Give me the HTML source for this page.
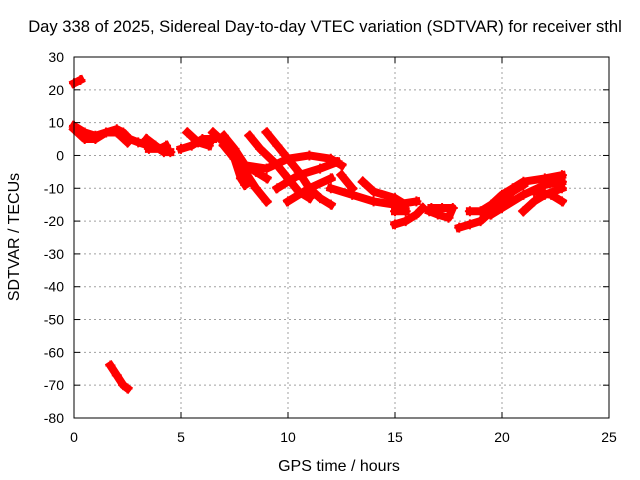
<!DOCTYPE html>
<html><head><meta charset="utf-8"><style>
body{margin:0;background:#fff}
svg{display:block;font-family:"Liberation Sans",sans-serif}
</style></head><body>
<svg id="chart" width="640" height="480">
<rect width="640" height="480" fill="#fff"/>
<g id="grid"></g>
<g id="data"></g>
<rect x="74" y="57" width="535" height="361" fill="none" stroke="#000" stroke-width="1"/>
<g id="axes"></g>
<text x="325" y="32" text-anchor="middle" font-size="16.6">Day 338 of 2025, Sidereal Day-to-day VTEC variation (SDTVAR) for receiver sthl</text>
<text x="339" y="471" text-anchor="middle" font-size="16">GPS time / hours</text>
<text x="19" y="237" text-anchor="middle" font-size="16" transform="rotate(-90 19 237)">SDTVAR / TECUs</text>
</svg>
<script>
const xTicks=[0,5,10,15,20,25];
const yTicks=[30,20,10,0,-10,-20,-30,-40,-50,-60,-70,-80];
const tracks=[
[[0,22],[0.3,23]],
[[0,9],[0.5,7],[1,6],[1.5,7],[2,8],[2.3,7],[2.6,5],[3,4],[3.5,3]],
[[0,8],[0.5,5],[1,5],[1.5,7],[2,7],[2.5,4]],
[[3.4,5],[3.8,3],[4.2,1],[4.5,1]],
[[3.5,2],[4,2],[4.3,3]],
[[5,2],[5.5,3],[6,5],[6.5,5]],
[[5.3,7],[5.8,4],[6.3,3]],
[[6.5,7],[7,4],[7.5,0],[8,-5],[8.5,-10],[9,-14]],
[[7,6],[7.5,2],[8,-3],[8.5,-5],[9,-7]],
[[7,3],[7.5,-1],[7.8,-7],[8,-9]],
[[8.2,6],[8.7,2],[9.5,-3],[10,-7],[10.5,-11],[11,-13]],
[[9,7],[9.5,3],[10,-1],[10.5,-5],[11,-10],[11.5,-13],[12,-15]],
[[8,-3],[9,-4],[10,-1],[11,0],[12,-1],[12.5,-3]],
[[9.5,-10],[10.5,-6],[11.5,-4],[12.3,-2]],
[[10,-14],[11,-10],[12,-7]],
[[12,-10],[13,-12],[14,-14],[15,-15],[16,-14]],
[[13.5,-8],[14,-11],[15,-13],[15.5,-15]],
[[12.5,-6],[13,-10]],
[[15,-21],[15.5,-20],[16,-18],[16.3,-16]],
[[15,-17],[15.5,-17]],
[[16.6,-17],[17,-18],[17.5,-19],[17.7,-16],[17.2,-16],[16.7,-16]],
[[18,-22],[18.5,-21],[19,-20],[19.5,-17],[20,-14],[20.5,-11],[21,-9]],
[[18.5,-17],[19,-17],[19.5,-15],[20,-12],[20.5,-10],[21,-8],[22,-7],[22.8,-6]],
[[19.5,-18],[20,-16],[21,-12],[22,-9],[22.8,-8]],
[[21,-17],[21.5,-14],[22,-12],[22.8,-10]],
[[21.5,-11],[22.3,-12],[22.8,-14]],
[[1.7,-64],[2,-67],[2.3,-70],[2.5,-71]]
];
const NS='http://www.w3.org/2000/svg';
const X0=74,X1=609,Y0=418,Y1=57;
function sx(h){return X0+(h-0)/(25-0)*(X1-X0);}
function sy(v){return Y0-(v+80)/(110)*(Y0-Y1);}
function mk(t,a){const e=document.createElementNS(NS,t);for(const k in a)e.setAttribute(k,a[k]);return e;}
const grid=document.getElementById('grid'),axes=document.getElementById('axes'),data=document.getElementById('data');
xTicks.forEach(t=>{const x=sx(t);
 if(t>0&&t<25){const l=mk('line',{x1:x,x2:x,y1:Y1,y2:Y0,stroke:'#a0a0a0','stroke-dasharray':'2,3'});
 
 grid.appendChild(l);}
 const tk=mk('line',{x1:x,x2:x,y1:Y0,y2:Y0-6,stroke:'#000'});
 
 axes.appendChild(tk);
 const tk2=mk('line',{x1:x,x2:x,y1:Y1,y2:Y1+6,stroke:'#000'});
 
 axes.appendChild(tk2);
 const tx=mk('text',{x:x,y:Y0+24,'text-anchor':'middle','font-size':14});tx.textContent=t;
 
 axes.appendChild(tx);});
yTicks.forEach(t=>{const y=sy(t);
 if(t>-80&&t<30){const l=mk('line',{x1:X0,x2:X1,y1:y,y2:y,stroke:'#a0a0a0','stroke-dasharray':'2,3'});
 
 grid.appendChild(l);}
 const tk=mk('line',{x1:X0,x2:X0+6,y1:y,y2:y,stroke:'#000'});
 
 axes.appendChild(tk);
 const tk2=mk('line',{x1:X1,x2:X1-6,y1:y,y2:y,stroke:'#000'});
 
 axes.appendChild(tk2);
 const tx=mk('text',{x:X0-10,y:y+5,'text-anchor':'end','font-size':14});tx.textContent=t;
 
 axes.appendChild(tx);});
tracks.forEach(tr=>{
 const p=mk('polyline',{points:tr.map(d=>sx(d[0])+','+sy(d[1])).join(' '),fill:'none',stroke:'#ff0000','stroke-width':8,'stroke-linejoin':'round','stroke-linecap':'square'});
 
 data.appendChild(p);
 tr.forEach(d=>{const x=sx(d[0]),y=sy(d[1]);
  const m=mk('path',{d:`M${x-5},${y}H${x+5}M${x},${y-5}V${y+5}`,stroke:'#ff0000','stroke-width':2});
  
  data.appendChild(m);});
});
</script>
</body></html>
